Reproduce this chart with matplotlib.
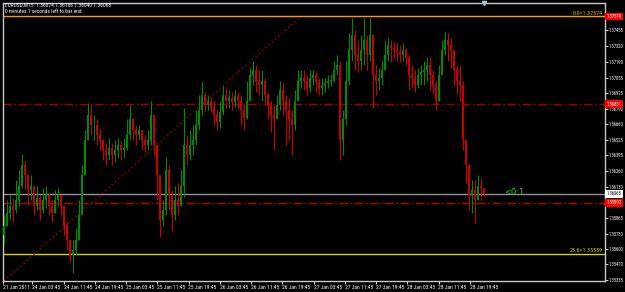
import numpy as np
import matplotlib
matplotlib.use('Agg')
import matplotlib.pyplot as plt
from matplotlib import font_manager as fm
from matplotlib.font_manager import FontProperties
from matplotlib.transforms import blended_transform_factory

# ---------------- data ----------------
title_line = "EURUSD,M15  1.36074 1.36106 1.36040 1.36068"
timer_line = "0 minutes 1 seconds left to bar end"

first_open = 1.3572
closes = [
    1.3580, 1.3591, 1.3597, 1.3593, 1.3602, 1.3614, 1.3631, 1.3623, 1.3610, 1.3614,
    1.3597, 1.3603, 1.3593, 1.3602, 1.3606, 1.3597, 1.3591, 1.3602, 1.3606, 1.3597,
    1.3580, 1.3568, 1.3555, 1.3559, 1.3568, 1.3589, 1.3623, 1.3653, 1.3674, 1.3665,
    1.3665, 1.3657, 1.3653, 1.3644, 1.3640, 1.3646, 1.3640, 1.3644, 1.3648, 1.3644,
    1.3646, 1.3657, 1.3670, 1.3661, 1.3657, 1.3661, 1.3653, 1.3648, 1.3653, 1.3674,
    1.3648, 1.3623, 1.3585, 1.3593, 1.3627, 1.3606, 1.3589, 1.3602, 1.3597, 1.3614,
    1.3648, 1.3640, 1.3648, 1.3653, 1.3665, 1.3678, 1.3691, 1.3682, 1.3686, 1.3680,
    1.3674, 1.3668, 1.3676, 1.3691, 1.3686, 1.3688, 1.3685, 1.3690, 1.3686, 1.3678,
    1.3671, 1.3686, 1.3708, 1.3712, 1.3702, 1.3699, 1.3703, 1.3691, 1.3682, 1.3674,
    1.3670, 1.3682, 1.3695, 1.3686, 1.3678, 1.3670, 1.3665, 1.3686, 1.3703, 1.3705,
    1.3703, 1.3697, 1.3705, 1.3708, 1.3702, 1.3697, 1.3699, 1.3701, 1.3703, 1.3703,
    1.3712, 1.3716, 1.3653, 1.3670, 1.3703, 1.3729, 1.3742, 1.3725, 1.3720, 1.3729,
    1.3737, 1.3725, 1.3742, 1.3708, 1.3703, 1.3705, 1.3712, 1.3725, 1.3733, 1.3731,
    1.3729, 1.3727, 1.3725, 1.3729, 1.3722, 1.3708, 1.3705, 1.3699, 1.3708, 1.3710,
    1.3712, 1.3716, 1.3708, 1.3699, 1.3686, 1.3708, 1.3729, 1.3737, 1.3733, 1.3729,
    1.3712, 1.3703, 1.3699, 1.3653, 1.3631, 1.3606, 1.3610, 1.3602, 1.3614, 1.3612, 1.36068,
]
highs = [
    1.3589, 1.3602, 1.3606, 1.3603, 1.3619, 1.3627, 1.3641, 1.3636, 1.3623, 1.3623,
    1.3610, 1.3614, 1.3606, 1.3612, 1.3614, 1.3608, 1.3602, 1.3610, 1.3612, 1.3606,
    1.3593, 1.3583, 1.3568, 1.3568, 1.3578, 1.3602, 1.3631, 1.3661, 1.3684, 1.3682,
    1.3674, 1.3670, 1.3663, 1.3653, 1.3650, 1.3654, 1.3650, 1.3653, 1.3654, 1.3653,
    1.3654, 1.3670, 1.3682, 1.3668, 1.3665, 1.3665, 1.3661, 1.3657, 1.3661, 1.3686,
    1.3657, 1.3648, 1.3610, 1.3602, 1.3638, 1.3631, 1.3610, 1.3614, 1.3616, 1.3627,
    1.3680, 1.3657, 1.3661, 1.3665, 1.3678, 1.3691, 1.3703, 1.3693, 1.3691, 1.3689,
    1.3686, 1.3678, 1.3686, 1.3698, 1.3697, 1.3695, 1.3693, 1.3695, 1.3693, 1.3691,
    1.3684, 1.3703, 1.3714, 1.3720, 1.3716, 1.3712, 1.3712, 1.3705, 1.3693, 1.3686,
    1.3682, 1.3691, 1.3703, 1.3702, 1.3691, 1.3688, 1.3678, 1.3695, 1.3712, 1.3712,
    1.3712, 1.3708, 1.3712, 1.3712, 1.3710, 1.3705, 1.3705, 1.3705, 1.3708, 1.3709,
    1.3720, 1.3725, 1.3720, 1.3678, 1.3720, 1.3743, 1.3756, 1.3746, 1.3737, 1.3742,
    1.3756, 1.3742, 1.3756, 1.3742, 1.3716, 1.3714, 1.3720, 1.3737, 1.3739, 1.3737,
    1.3736, 1.3735, 1.3733, 1.3735, 1.3731, 1.3725, 1.3716, 1.3712, 1.3714, 1.3716,
    1.3720, 1.3723, 1.3723, 1.3712, 1.3703, 1.3716, 1.3737, 1.3744, 1.3743, 1.3739,
    1.3725, 1.3716, 1.3716, 1.3703, 1.3653, 1.3631, 1.3619, 1.3619, 1.3623, 1.3620, 1.36106,
]
lows = [
    1.3564, 1.3580, 1.3586, 1.3583, 1.3591, 1.3597, 1.3612, 1.3610, 1.3597, 1.3602,
    1.3589, 1.3593, 1.3585, 1.3591, 1.3595, 1.3589, 1.3583, 1.3593, 1.3597, 1.3589,
    1.3572, 1.3559, 1.3549, 1.3540, 1.3555, 1.3578, 1.3597, 1.3623, 1.3653, 1.3657,
    1.3653, 1.3648, 1.3644, 1.3636, 1.3631, 1.3636, 1.3631, 1.3634, 1.3637, 1.3636,
    1.3637, 1.3644, 1.3653, 1.3653, 1.3648, 1.3653, 1.3644, 1.3642, 1.3644, 1.3648,
    1.3640, 1.3602, 1.3570, 1.3580, 1.3589, 1.3593, 1.3575, 1.3585, 1.3589, 1.3597,
    1.3604, 1.3631, 1.3636, 1.3640, 1.3648, 1.3661, 1.3674, 1.3676, 1.3678, 1.3676,
    1.3665, 1.3661, 1.3663, 1.3674, 1.3680, 1.3680, 1.3678, 1.3681, 1.3680, 1.3665,
    1.3661, 1.3670, 1.3686, 1.3699, 1.3693, 1.3691, 1.3686, 1.3684, 1.3670, 1.3659,
    1.3644, 1.3670, 1.3678, 1.3674, 1.3648, 1.3653, 1.3640, 1.3661, 1.3686, 1.3697,
    1.3695, 1.3691, 1.3693, 1.3699, 1.3693, 1.3691, 1.3691, 1.3693, 1.3697, 1.3698,
    1.3702, 1.3708, 1.3636, 1.3640, 1.3665, 1.3699, 1.3720, 1.3712, 1.3710, 1.3712,
    1.3716, 1.3712, 1.3720, 1.3680, 1.3691, 1.3695, 1.3699, 1.3714, 1.3720, 1.3719,
    1.3722, 1.3720, 1.3719, 1.3720, 1.3716, 1.3695, 1.3697, 1.3693, 1.3697, 1.3699,
    1.3699, 1.3703, 1.3695, 1.3692, 1.3678, 1.3692, 1.3708, 1.3725, 1.3720, 1.3714,
    1.3699, 1.3692, 1.3686, 1.3644, 1.3616, 1.3593, 1.3591, 1.3582, 1.3602, 1.3602, 1.36040,
]

time_labels = ["21 Jan 2011", "24 Jan 03:45", "24 Jan 11:45", "24 Jan 19:45",
               "25 Jan 03:45", "25 Jan 11:45", "25 Jan 19:45", "26 Jan 03:45",
               "26 Jan 11:45", "26 Jan 19:45", "27 Jan 03:45", "27 Jan 11:45",
               "27 Jan 19:45", "28 Jan 03:45", "28 Jan 11:45", "28 Jan 19:45"]
price_ticks = [1.35335, 1.35470, 1.35600, 1.35730, 1.35865, 1.35995, 1.36130,
               1.36260, 1.36395, 1.36525, 1.36660, 1.36790, 1.36925, 1.37055,
               1.37190, 1.37320, 1.37455]

fib_top_price = 1.37574
fib_236_price = 1.35559
bid_price = 1.36068
red_level_upper = 1.36831
red_level_lower = 1.35992
trend_bars = [0, 99]
trend_prices = [1.35330, 1.37574]
rr_text = "<0:1"


# ---------------- fonts ----------------
def pick_narrow():
    prefs = ['Liberation Sans Narrow', 'Arial Narrow', 'Roboto Condensed',
             'Open Sans Condensed', 'Noto Sans Condensed', 'DejaVu Sans Condensed']
    ents = fm.fontManager.ttflist
    for p in prefs:
        for e in ents:
            if e.name == p and e.style == 'normal' and str(e.weight) in ('400', 'normal', 'regular'):
                return e.fname
    for e in ents:
        key = (e.name + ' ' + e.fname).lower()
        bad = any(b in key for b in ('mono', 'serif', 'cjk', 'bold', 'italic', 'light', 'thin', 'black', 'medium', 'semi'))
        if e.style == 'normal' and not bad and ('condensed' in str(e.stretch).lower()
                                                or 'narrow' in key or 'condensed' in key):
            return e.fname
    return None


narrow_path = pick_narrow()
if narrow_path:
    def fp(size):
        return FontProperties(fname=narrow_path, size=size)
else:
    def fp(size):
        return FontProperties(family='DejaVu Sans', size=size * 0.76)

# ---------------- figure ----------------
W, H = 625, 292
fig = plt.figure(figsize=(W / 100, H / 100), dpi=100, facecolor='black')
ax = fig.add_axes([3 / W, (H - 281) / H, (605 - 3) / W, (281 - 3) / H])
ax.set_facecolor('black')

n = len(closes)
opens = [first_open] + closes[:-1]
o = np.array(opens)
c = np.array(closes)
h = np.maximum(np.array(highs), np.maximum(o, c))
l = np.minimum(np.array(lows), np.minimum(o, c))
step = 3.0
xs = np.arange(n) * step + 1

up = c >= o
cols = np.where(up, '#008a00', '#c80000')
ax.vlines(xs, l, h, colors=cols, linewidth=0.8, zorder=3)
body = np.where(np.abs(c - o) < 0.00003, 0.00003, c - o)
ax.bar(xs, body, bottom=o, width=2.0, color=cols, linewidth=0, zorder=3)

# horizontal levels
ax.axhline(fib_top_price, color='#ff9900', lw=1.0, zorder=2)
ax.axhline(fib_236_price, color='#d4d400', lw=1.0, zorder=2)
ax.axhline(bid_price, color='#8a94a8', lw=1.0, zorder=2)
ax.axhline(red_level_upper, color='#9a0000', lw=1.0, ls=(0, (6, 2, 1, 2)), zorder=2)
ax.axhline(red_level_lower, color='#c00000', lw=1.0, ls=(0, (6, 2, 1, 2)), zorder=2)

# trend line
tx = [trend_bars[0] * step + 1, trend_bars[1] * step + 1]
ax.plot(tx, trend_prices, color='#c00000', lw=0.9, ls=(0, (1, 2.5)), zorder=2)

ax.set_xlim(0, 602)
ax.set_ylim(1.35330, 1.37688)

# level labels
ax.text(600, fib_top_price + 0.00006, "0.0=1.37574", color='#c8c800',
        fontproperties=fp(4.3), ha='right', va='bottom', zorder=6)
ax.text(600, fib_236_price + 0.00006, "23.6=1.35559", color='#d4d400',
        fontproperties=fp(4.3), ha='right', va='bottom', zorder=6)
ax.text(xs[-1] + 20, bid_price + 0.00010, rr_text, color='#30d030',
        fontsize=6.0, ha='left', va='center', zorder=6)

# axis styling
for s in ax.spines.values():
    s.set_color('#c8c8c8')
    s.set_linewidth(1.0)
ax.yaxis.tick_right()
ax.set_yticks(price_ticks)
ax.set_yticklabels(["" if abs(p - red_level_lower) < 0.0002 else f"{p:.5f}" for p in price_ticks])
ax.tick_params(axis='y', colors='white', length=2, width=0.6, pad=0.8)
for lab in ax.get_yticklabels():
    lab.set_fontproperties(fp(3.3))

tick_pos = [max(0.0, 31.25 * k - 2) for k in range(len(time_labels))]
ax.set_xticks(tick_pos)
ax.set_xticklabels(time_labels)
ax.tick_params(axis='x', colors='white', length=2, width=0.6, pad=1)
for lab in ax.get_xticklabels():
    lab.set_horizontalalignment('left')
    lab.set_fontproperties(fp(4.0))

# price boxes on the right scale
bt = blended_transform_factory(ax.transAxes, ax.transData)
for price, fc, tc in [(fib_top_price, '#ff0000', 'white'),
                      (red_level_upper, '#ff0000', 'white'),
                      (bid_price, 'white', 'black'),
                      (red_level_lower, '#ff0000', 'white')]:
    ax.text(1.0025, price, f"{price:.5f}", transform=bt, color=tc,
            fontproperties=fp(3.3), ha='left', va='center', clip_on=False, zorder=10,
            bbox=dict(boxstyle='square,pad=0.3', fc=fc, ec='none'))

# shift marker
ax.plot([xs[-1]], [1.0], transform=blended_transform_factory(ax.transData, ax.transAxes),
        marker='v', ms=3, color='#b0c4d8', clip_on=False, zorder=8)

# header
fig.text(5 / W, 1 - 5.5 / H, title_line, color='white', fontproperties=fp(4.0), ha='left', va='center')
fig.text(5 / W, 1 - 11.5 / H, timer_line, color='white', fontproperties=fp(4.0), ha='left', va='center')

fig.savefig('out.png', dpi=100, facecolor='black')
